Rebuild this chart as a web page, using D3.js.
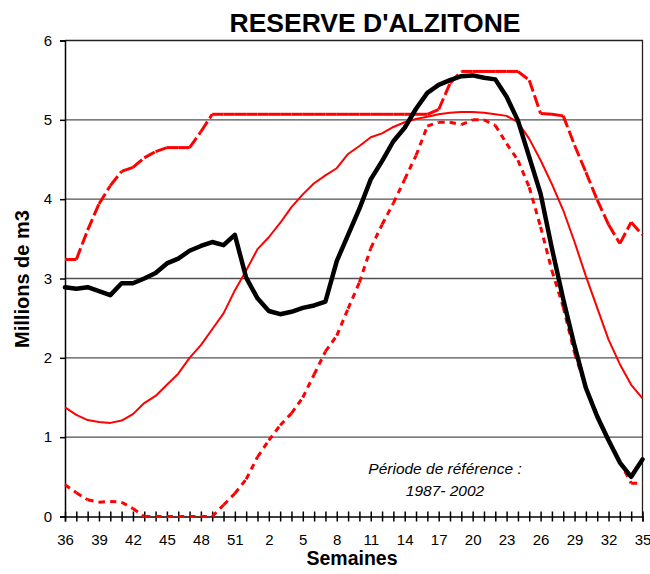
<!DOCTYPE html>
<html>
<head>
<meta charset="utf-8">
<script src="https://cdn.jsdelivr.net/npm/d3@7"></script>
<style>
  html, body { margin: 0; padding: 0; background: #fff; }
  svg { display: block; font-family: "Liberation Sans", Arial, sans-serif; }
</style>
</head>
<body>
<svg id="chart" width="650" height="574"></svg>
<script>
// Weeks of the hydrological year: week 36 through week 52, then weeks 1 to 35
const weeks = [36,37,38,39,40,41,42,43,44,45,46,47,48,49,50,51,52,
               1,2,3,4,5,6,7,8,9,10,11,12,13,14,15,16,17,18,19,20,
               21,22,23,24,25,26,27,28,29,30,31,32,33,34,35];

// Labelled weeks on the horizontal axis
const labelWeeks = [36,39,42,45,48,51,2,5,8,11,14,17,20,23,26,29,32,35];

// Y-axis ticks (millions of m3)
const yTicks = [0,1,2,3,4,5,6];

// Current season storage
const current = [2.89,2.87,2.89,2.84,2.79,2.94,2.94,3.00,3.07,3.19,3.25,3.35,3.41,3.46,3.42,3.55,3.01,
                 2.75,2.59,2.55,2.58,2.63,2.66,2.71,3.22,3.55,3.88,4.25,4.48,4.73,4.90,5.14,5.34,5.44,5.50,
                 5.55,5.56,5.53,5.51,5.29,4.99,4.53,4.07,3.38,2.74,2.15,1.62,1.26,0.96,0.68,0.50,0.72];

// Reference period average
const average = [1.375,1.28,1.215,1.19,1.18,1.21,1.29,1.43,1.52,1.66,1.80,2.00,2.16,2.36,2.56,2.85,3.10,
                 3.37,3.52,3.70,3.90,4.06,4.20,4.30,4.39,4.57,4.67,4.78,4.83,4.91,4.97,5.01,5.04,5.07,5.09,
                 5.10,5.10,5.09,5.07,5.05,4.97,4.76,4.49,4.19,3.86,3.46,3.03,2.63,2.23,1.92,1.66,1.49];

// Reference period maximum
const maximum = [3.24,3.24,3.61,3.94,4.17,4.35,4.40,4.52,4.60,4.65,4.65,4.65,4.85,5.07,5.07,5.07,5.07,
                 5.07,5.07,5.07,5.07,5.07,5.07,5.07,5.07,5.07,5.07,5.07,5.07,5.07,5.07,5.07,5.07,5.13,5.46,
                 5.61,5.61,5.61,5.61,5.61,5.61,5.50,5.08,5.07,5.05,4.68,4.34,3.99,3.68,3.44,3.71,3.55];

// Reference period minimum
const minimum = [0.40,0.30,0.21,0.18,0.19,0.18,0.10,0.00,0.00,0.00,0.00,0.00,0.00,0.00,0.145,0.29,0.47,
                 0.75,0.96,1.15,1.30,1.50,1.79,2.08,2.28,2.62,2.95,3.38,3.68,3.95,4.25,4.55,4.92,4.97,4.97,
                 4.94,5.00,5.00,4.93,4.70,4.49,4.15,3.65,3.10,2.64,2.06,1.63,1.28,0.96,0.69,0.42,0.42];

const svg = d3.select("#chart");
const plotLeft = 65, plotRight = 642.5, plotTop = 40.5, plotBottom = 516.5;

const x = d3.scalePoint().domain(weeks).range([plotLeft, plotRight]);
const y = d3.scaleLinear().domain([0, 6]).range([plotBottom, plotTop]);

svg.append("rect").attr("width", 650).attr("height", 574).attr("fill", "#fff");

// Title
svg.append("text")
  .attr("x", 375).attr("y", 32)
  .attr("text-anchor", "middle")
  .attr("font-size", 26.5).attr("font-weight", "bold")
  .text("RESERVE D'ALZITONE");

// Horizontal gridlines
svg.append("g").selectAll("line")
  .data(yTicks.filter(v => v > 0 && v < 6))
  .join("line")
  .attr("x1", plotLeft).attr("x2", plotRight)
  .attr("y1", d => y(d)).attr("y2", d => y(d))
  .attr("stroke", "#505050").attr("stroke-width", 1.3);

// Plot area frame (top and right)
svg.append("path")
  .attr("d", `M${plotLeft},${plotTop}H${plotRight}V${plotBottom}`)
  .attr("fill", "none").attr("stroke", "#222").attr("stroke-width", 1.3);

// Y axis
const yAxis = svg.append("g")
  .attr("transform", `translate(${plotLeft},0)`)
  .call(d3.axisLeft(y).tickValues(yTicks).tickFormat(d3.format("d")).tickSize(5).tickPadding(8));
yAxis.selectAll("text").attr("font-size", 15).attr("fill", "#000").attr("font-family", "Liberation Sans, Arial, sans-serif");
yAxis.selectAll("line, path").attr("stroke", "#000").attr("stroke-width", 1.5);

// X axis with crossing tick marks
const xAxis = svg.append("g")
  .attr("transform", `translate(0,${plotBottom})`)
  .call(d3.axisBottom(x).tickSizeOuter(0).tickSize(5).tickPadding(13)
        .tickFormat(d => labelWeeks.includes(d) ? d : ""));
xAxis.selectAll(".tick line").attr("y1", -5).attr("y2", 5);
xAxis.selectAll("line, path").attr("stroke", "#000").attr("stroke-width", 1.5);
xAxis.selectAll("text").attr("font-size", 15).attr("fill", "#000").attr("font-family", "Liberation Sans, Arial, sans-serif");

// Axis titles
svg.append("text")
  .attr("x", 352).attr("y", 565)
  .attr("text-anchor", "middle")
  .attr("font-size", 19.5).attr("font-weight", "bold")
  .text("Semaines");

svg.append("text")
  .attr("transform", "translate(29,279) rotate(-90)")
  .attr("text-anchor", "middle")
  .attr("font-size", 20).attr("font-weight", "bold")
  .text("Millions de m3");

// Reference period note
const note = svg.append("g").attr("font-style", "italic").attr("font-size", 15.5).attr("text-anchor", "middle");
note.append("text").attr("x", 445).attr("y", 474).text("Période de référence :");
note.append("text").attr("x", 445).attr("y", 496).text("1987- 2002");

const line = d3.line().x(d => x(d[0])).y(d => y(d[1]));
const pts = vals => weeks.map((w, i) => [w, vals[i]]);

// Segment-wise dashed series (dash pattern restarts at every week)
function segmented(vals, dash, width) {
  svg.append("g").selectAll("path")
    .data(d3.pairs(pts(vals)))
    .join("path")
    .attr("d", d => line(d))
    .attr("fill", "none")
    .attr("stroke", "#ff0000")
    .attr("stroke-width", width)
    .attr("stroke-dasharray", dash);
}

// Average
svg.append("path")
  .attr("d", line(pts(average)))
  .attr("fill", "none").attr("stroke", "#ff0000").attr("stroke-width", 2)
  .attr("stroke-linejoin", "round");

// Maximum (long dashes) and minimum (short dashes)
segmented(maximum, "12,4", 3);
segmented(minimum, "6,5", 3);

// Current season
svg.append("path")
  .attr("d", line(pts(current)))
  .attr("fill", "none").attr("stroke", "#000").attr("stroke-width", 4.5)
  .attr("stroke-linejoin", "round").attr("stroke-linecap", "round");
</script>
</body>
</html>
